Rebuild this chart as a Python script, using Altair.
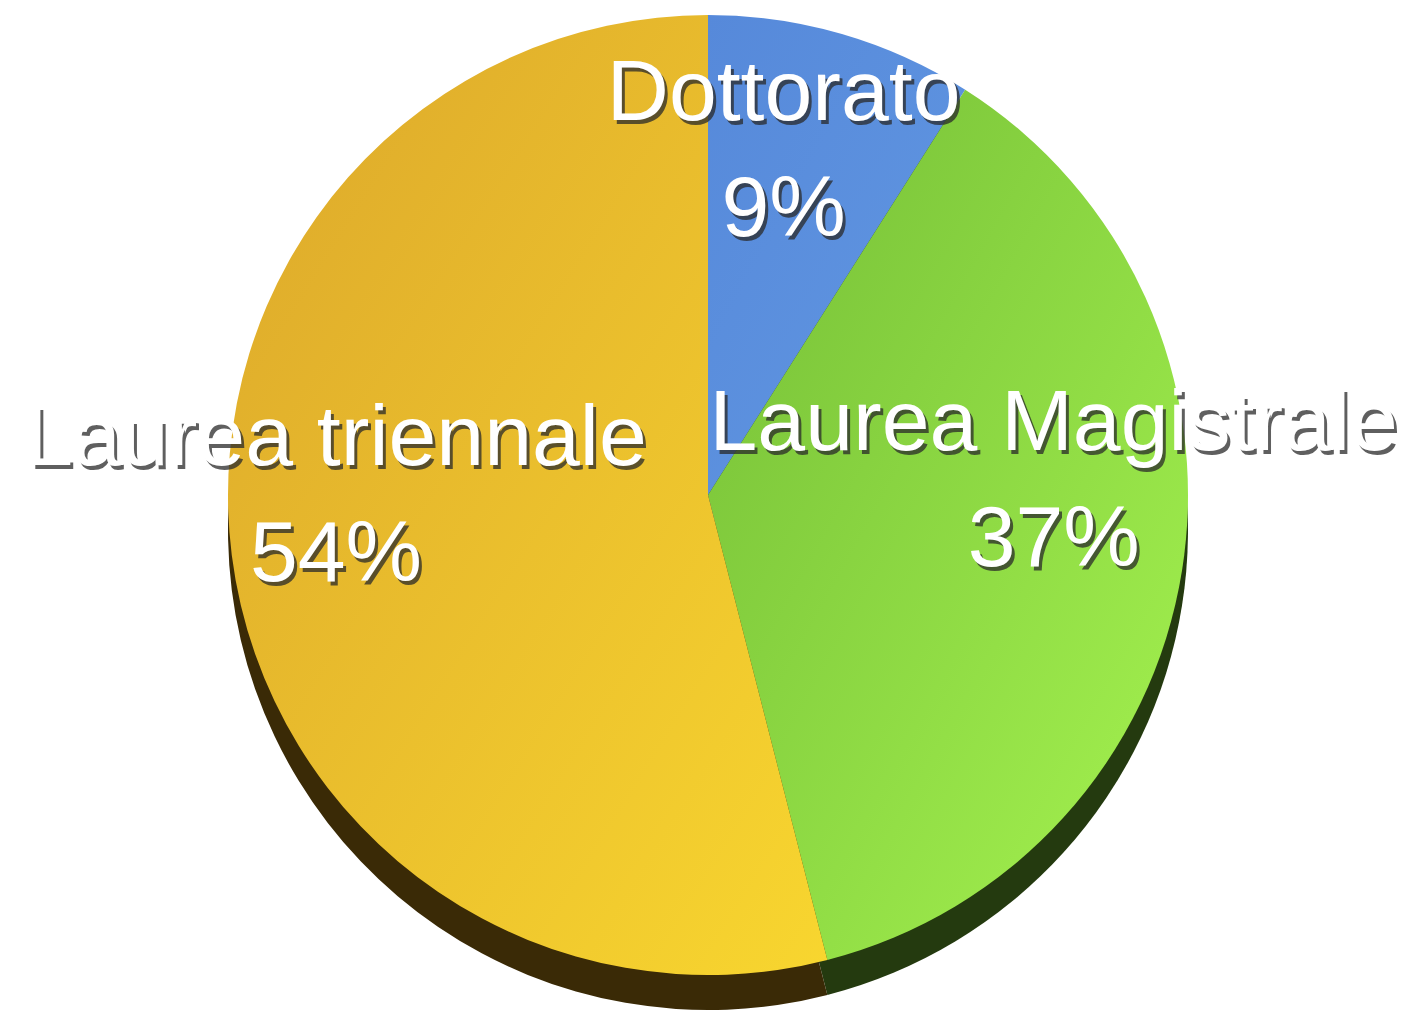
import altair as alt
import pandas as pd

categories = ["Dottorato", "Laurea Magistrale", "Laurea triennale"]
values = [9, 37, 54]
pct_labels = ["9%", "37%", "54%"]
order = [0, 1, 2]

df = pd.DataFrame({"cat": categories, "val": values, "pct": pct_labels, "order": order})

# styles
R = 480
DEPTH = 35
top_fill = {
    "Dottorato": alt.Gradient(gradient="linear", x1=0, y1=0, x2=1, y2=1,
                              stops=[alt.GradientStop(color="#5689DA", offset=0),
                                     alt.GradientStop(color="#6197E2", offset=1)]),
    "Laurea Magistrale": alt.Gradient(gradient="linear", x1=0, y1=0, x2=1, y2=1,
                                      stops=[alt.GradientStop(color="#74BD36", offset=0),
                                             alt.GradientStop(color="#A6F450", offset=1)]),
    "Laurea triennale": alt.Gradient(gradient="linear", x1=0, y1=0, x2=1, y2=1,
                                     stops=[alt.GradientStop(color="#DCA72B", offset=0),
                                            alt.GradientStop(color="#F8D62F", offset=1)]),
}
depth_fill = {"Dottorato": "#1E2F52", "Laurea Magistrale": "#243A0F", "Laurea triennale": "#3A2A06"}
label_pos = {  # radius, dx, dy (block centre)
    "Dottorato": (350, -22, -7),
    "Laurea Magistrale": (350, 0, -68),
    "Laurea triennale": (375, 0, -45),
}
LINE = 58
FONT = "Liberation Sans"
FS = 86

theta_scale = alt.Scale(domain=[0, 100], range=[0, 6.283185307179586])

base = alt.Chart(df).transform_window(
    end="sum(val)", sort=[alt.SortField("order")], frame=[None, 0]
).transform_calculate(
    start="datum.end - datum.val", mid="datum.end - datum.val / 2"
)

depth_layers, top_layers, text_layers = [], [], []
for c in categories:
    sub = base.transform_filter(alt.datum.cat == c)
    enc = dict(theta=alt.Theta("start:Q", scale=theta_scale, stack=None), theta2="end:Q")
    depth_layers.append(sub.mark_arc(outerRadius=R, fill=depth_fill[c], yOffset=DEPTH).encode(**enc))
    top_layers.append(sub.mark_arc(outerRadius=R, fill=top_fill[c]).encode(**enc))
    rad, dx, dy = label_pos[c]
    tenc = dict(theta=alt.Theta("mid:Q", scale=theta_scale, stack=None))
    for field, off in (("cat", -LINE), ("pct", LINE)):
        text_layers.append(sub.mark_text(radius=rad, dx=dx + 3, dy=dy + off + 4, font=FONT, fontSize=FS,
                                         fill="#2a2a2a", opacity=0.75, baseline="middle", align="center")
                           .encode(text=f"{field}:N", **tenc))
        text_layers.append(sub.mark_text(radius=rad, dx=dx, dy=dy + off, font=FONT, fontSize=FS,
                                         fill="white", baseline="middle", align="center")
                           .encode(text=f"{field}:N", **tenc))

chart = alt.layer(*depth_layers, *top_layers, *text_layers).properties(
    width=1400, height=974, autosize="none",
    padding={"left": 0, "top": 0, "right": 0, "bottom": 50},
).configure_view(stroke=None)

chart.save("out.html", embed_options={"renderer": "svg", "actions": False})
